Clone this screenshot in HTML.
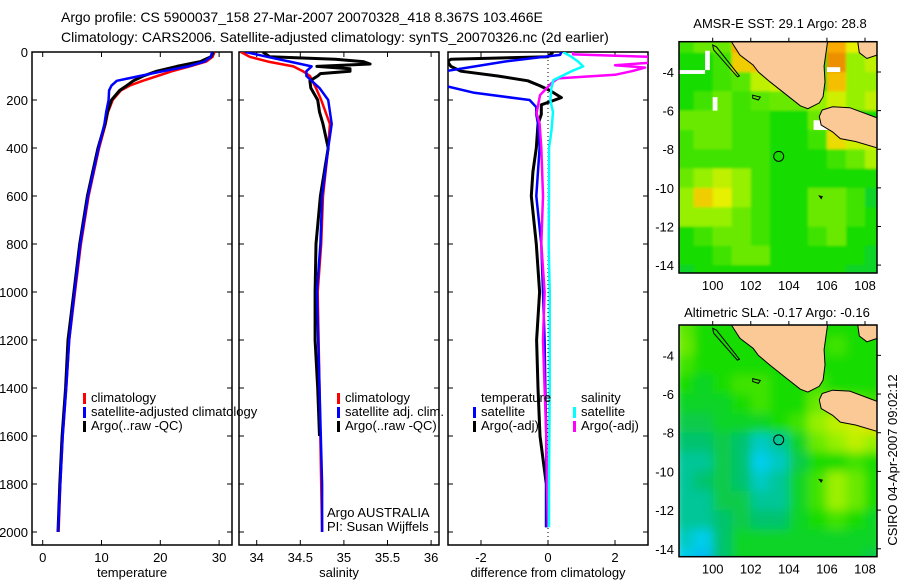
<!DOCTYPE html>
<html><head><meta charset="utf-8">
<style>
html,body{margin:0;padding:0;background:#fff;}
svg{display:block;font-family:"Liberation Sans",sans-serif;}
text{font-size:13px;fill:#000;}
</style></head>
<body>
<svg id="fig" width="900" height="580" viewBox="0 0 900 580" xmlns="http://www.w3.org/2000/svg">
<text x="61" y="22" style="font-size:14px">Argo profile: CS 5900037_158 27-Mar-2007 20070328_418 8.367S 103.466E</text>
<text x="61" y="42" style="font-size:14px">Climatology: CARS2006. Satellite-adjusted climatology: synTS_20070326.nc (2d earlier)</text>
<text x="780" y="28" text-anchor="middle">AMSR-E SST: 29.1 Argo: 28.8</text>
<text x="777" y="317" text-anchor="middle">Altimetric SLA: -0.17 Argo: -0.16</text>
<text transform="translate(897,460) rotate(-90)" text-anchor="middle">CSIRO 04-Apr-2007 09:02:12</text>
<g id="g"></g>
</svg>
<script>
// ---------- profile data ----------
const tArgoDepth=[0,20,40,60,80,100,120,140,160,200,250,300,400,600,800,1000,1200,1400,1600,1800,2000];
const tArgo=[29.0,28.6,26.8,22.8,19.4,17.1,15.4,14.3,13.1,11.7,11.0,10.6,9.4,7.6,6.3,5.3,4.3,3.9,3.3,2.9,2.6];
const tClim=[29.2,28.9,27.8,25.0,22.0,19.5,17.0,14.8,13.3,11.9,11.1,10.7,9.6,7.8,6.5,5.5,4.5,4.0,3.4,3.0,2.7];
const tSat=[28.8,28.6,27.5,24.7,20.5,16.5,12.6,11.7,11.3,11.2,10.8,10.5,9.5,7.7,6.4,5.4,4.5,4.0,3.4,3.0,2.6];

const sDepth=[0,20,30,40,50,60,70,80,90,100,120,150,200,250,300,400,600,800,1000,1200,1400,1600];
const sArgo=[34.07,34.15,34.9,35.22,35.3,34.69,35.07,35.07,34.73,34.70,34.61,34.62,34.70,34.72,34.76,34.82,34.73,34.68,34.67,34.67,34.70,34.72];
const scDepth=[0,20,40,60,80,100,150,200,300,400,600,800,1000,1400,1800,2000];
const sClim=[33.82,33.92,34.13,34.42,34.53,34.61,34.68,34.74,34.84,34.82,34.76,34.74,34.70,34.72,34.74,34.75];
const sSat=[33.87,34.12,34.38,34.63,34.57,34.57,34.72,34.82,34.86,34.82,34.75,34.73,34.69,34.72,34.75,34.75];

const dTArgoDepth=[0,20,30,40,60,80,100,120,140,160,190,220,260,300,400,500,600,800,1000,1200,1400,1600,1800,1980];
const dTArgo=[0.15,0,-2.9,-3,-2.9,-2.6,-1.5,-0.6,-0.25,0.05,0.4,-0.2,-0.2,-0.3,-0.35,-0.45,-0.5,-0.35,-0.25,-0.34,-0.3,-0.24,-0.05,-0.05];
const dTSatDepth=[0,12,40,83,100,140,170,200,230,260,300,400,600,800,1000,1200,1400,1600,1800,1980];
const dTSat=[0.4,0.36,-1.3,-3.2,-3.5,-3.1,-2.2,-0.55,-0.35,-0.35,-0.3,-0.25,-0.35,-0.2,-0.15,-0.1,-0.08,-0.05,-0.05,-0.05];
const dSArgoDepth=[0,10,20,45,55,65,80,95,110,130,180,255,300,400,600,800,1000,1200,1400,1600,1800,1980];
const dSArgo=[0.75,0.75,3,3,2,2.9,2.5,2,0.3,0.1,-0.24,-0.34,-0.25,-0.2,-0.15,-0.2,-0.1,-0.15,-0.1,-0.05,-0.03,0];
const dSSatDepth=[0,20,40,60,80,117,150,200,250,330,400,600,800,1000,1400,1800,1980];
const dSSat=[0.45,0.7,0.9,1.05,0.7,0.16,0.1,0.07,0.15,0.1,0.03,0.03,0.02,0.05,0.05,0.03,0.03];

// ---------- map data (1-degree cells, centres lon 98.5..108.5, lat -2.5..-14.5, normalised colour value) ----------
const mapLons=[98.5,99.5,100.5,101.5,102.5,103.5,104.5,105.5,106.5,107.5,108.5];
const mapLats=[-2.5,-3.5,-4.5,-5.5,-6.5,-7.5,-8.5,-9.5,-10.5,-11.5,-12.5,-13.5,-14.5];
const sstVals=[
[.55,.6,.6,.85,.5,.5,.5,.5,.85,.75,.8],
[.5,.5,.55,.8,.82,.5,.5,.5,.88,.65,.7],
[.5,.5,.55,.58,.7,.72,.5,.5,.82,.65,.65],
[.5,.55,.6,.55,.58,.6,.6,.65,.72,.65,.7],
[.6,.6,.6,.55,.55,.5,.5,.6,.6,.5,.5],
[.55,.6,.6,.55,.55,.5,.5,.55,.78,.72,.72],
[.55,.55,.55,.55,.55,.5,.5,.5,.55,.6,.68],
[.6,.65,.7,.65,.55,.5,.5,.5,.5,.5,.5],
[.65,.8,.75,.65,.55,.5,.5,.6,.6,.55,.45],
[.65,.65,.65,.6,.55,.5,.5,.6,.6,.55,.5],
[.5,.55,.6,.6,.55,.5,.5,.55,.6,.5,.5],
[.5,.5,.55,.6,.6,.5,.5,.5,.5,.5,.45],
[.45,.5,.5,.5,.5,.5,.5,.5,.5,.45,.45]];
const slaVals=[
[.58,.5,.5,.5,.5,.5,.5,.5,.5,.5,.5],
[.6,.5,.5,.5,.5,.5,.5,.5,.55,.5,.5],
[.55,.5,.5,.5,.5,.5,.5,.5,.5,.5,.5],
[.5,.45,.5,.55,.55,.5,.5,.55,.5,.5,.5],
[.45,.45,.45,.5,.55,.5,.5,.6,.62,.58,.55],
[.4,.4,.45,.45,.45,.5,.55,.65,.7,.72,.78],
[.35,.35,.4,.35,.25,.3,.45,.6,.65,.7,.65],
[.3,.3,.4,.35,.2,.25,.4,.5,.5,.55,.5],
[.3,.35,.4,.35,.25,.3,.45,.55,.66,.6,.5],
[.3,.3,.4,.4,.3,.3,.45,.55,.66,.6,.5],
[.3,.3,.35,.4,.35,.35,.45,.5,.55,.5,.45],
[.25,.2,.35,.45,.45,.45,.45,.45,.45,.45,.45],
[.2,.15,.35,.45,.45,.45,.45,.45,.45,.45,.4]];

const NS='http://www.w3.org/2000/svg';
const G=document.getElementById('g');
function mk(tag,attrs,parent){const e=document.createElementNS(NS,tag);for(const k in attrs)e.setAttribute(k,attrs[k]);(parent||G).appendChild(e);return e;}
function txt(x,y,s,anchor,parent){const t=mk('text',{x:x,y:y,'text-anchor':anchor||'start'},parent);t.textContent=s;return t;}

const Y0=52, YPX=0.24, BOT=545;
const yD=d=>Y0+d*YPX;

function profilePanel(name,x0,x1,xs,ticks,tickFmt,xlabel,showY){
  const g=mk('g',{});
  
  
  const r=mk('rect',{x:x0,y:Y0,width:x1-x0,height:BOT-Y0,fill:'none',stroke:'#000','stroke-width':1.5},g);
  
  
  ticks.forEach(v=>{
    const x=xs(v);
    mk('line',{x1:x,x2:x,y1:BOT,y2:BOT-5,stroke:'#000'},g);
    mk('line',{x1:x,x2:x,y1:Y0,y2:Y0+5,stroke:'#000'},g);
    const t=txt(x,562,tickFmt(v),'middle',g);
    
    
  });
  for(let d=0;d<=2000;d+=200){
    const y=yD(d);
    mk('line',{x1:x0,x2:x0+5,y1:y,y2:y,stroke:'#000'},g);
    mk('line',{x1:x1,x2:x1-5,y1:y,y2:y,stroke:'#000'},g);
    if(showY){const t=txt(28,y+5,String(d),'end',g);
      
      }
  }
  const xl=txt((x0+x1)/2,577,xlabel,'middle',g);
  
  
  return g;
}
function series(g,name,depths,vals,xs,color,w,clipId){
  const pts=depths.map((d,i)=>xs(vals[i]).toFixed(1)+','+yD(d).toFixed(1)).join(' ');
  const p=mk('polyline',{points:pts,fill:'none',stroke:color,'stroke-width':w,'stroke-linejoin':'round','clip-path':'url(#'+clipId+')'},g);
  
  
}
const defs=mk('defs',{});
function clip(id,x,y,w,h){const c=mk('clipPath',{id:id},defs);mk('rect',{x:x,y:y,width:w,height:h},c);}
function legendItem(g,name,mx,y,color,label){
  const m=mk('rect',{x:mx,y:y-9,width:3,height:11,fill:color},g);
  
  
  const t=txt(mx+8,y,label,'start',g);
  
  
}

const xT=v=>42.7+v*5.88;
clip('c1',32,Y0,200,BOT-Y0);
const p1=profilePanel('temperature',32,232,xT,[0,10,20,30],v=>String(v),'temperature',true);
series(p1,'temperature-climatology-line',tArgoDepth,tClim,xT,'#f00',2.5,'c1');
series(p1,'temperature-argo-line',tArgoDepth,tArgo,xT,'#000',3,'c1');
series(p1,'temperature-satellite-adjusted-line',tArgoDepth,tSat,xT,'#00f',2.5,'c1');
legendItem(p1,'legend-climatology',83,402,'#f00','climatology');
legendItem(p1,'legend-satellite-adjusted',83,416,'#00f','satellite-adjusted climatology');
legendItem(p1,'legend-argo',83,430,'#000','Argo(..raw -QC)');

const xS=v=>256.7+(v-34)*87.2;
clip('c2',239,Y0,200,BOT-Y0);
const p2=profilePanel('salinity',239,439,xS,[34,34.5,35,35.5,36],v=>String(v),'salinity',false);
series(p2,'salinity-climatology-line',scDepth,sClim,xS,'#f00',2.5,'c2');
series(p2,'salinity-argo-line',sDepth,sArgo,xS,'#000',3,'c2');
series(p2,'salinity-satellite-adjusted-line',scDepth,sSat,xS,'#00f',2.5,'c2');
legendItem(p2,'legend-sal-climatology',337,402,'#f00','climatology');
legendItem(p2,'legend-sal-satellite',337,416,'#00f','satellite adj. clim.');
legendItem(p2,'legend-sal-argo',337,430,'#000','Argo(..raw -QC)');
const a1=txt(327,517,'Argo AUSTRALIA','start',p2);


const a2=txt(327,531,'PI: Susan Wijffels','start',p2);



const xDf=v=>548+v*33.5;
clip('c3',448,Y0,200,BOT-Y0);
const p3=profilePanel('difference',448,648,xDf,[-2,0,2],v=>String(v),'difference from climatology',false);
const zl=mk('line',{x1:xDf(0),x2:xDf(0),y1:Y0,y2:BOT,stroke:'#000','stroke-dasharray':'1,3'},p3);


series(p3,'temp-argo-adj-diff-line',dTArgoDepth,dTArgo,xDf,'#000',3,'c3');
series(p3,'temp-satellite-diff-line',dTSatDepth,dTSat,xDf,'#00f',2.5,'c3');
series(p3,'sal-argo-adj-diff-line',dSArgoDepth,dSArgo,xDf,'#f0f',2.5,'c3');
series(p3,'sal-satellite-diff-line',dSSatDepth,dSSat,xDf,'#0ff',2.5,'c3');
const lt=txt(481,402,'temperature','start',p3);


const ls=txt(581,402,'salinity','start',p3);


legendItem(p3,'legend-temp-satellite',473,416,'#00f','satellite');
legendItem(p3,'legend-temp-argo',473,430,'#000','Argo(-adj)');
legendItem(p3,'legend-sal-satellite-diff',573,416,'#0ff','satellite');
legendItem(p3,'legend-sal-argo-diff',573,430,'#f0f','Argo(-adj)');

// ---------- maps ----------
const cstops=[[0,[0,140,255]],[0.2,[0,205,235]],[0.35,[0,195,110]],[0.5,[20,220,0]],[0.65,[150,240,0]],[0.75,[230,240,0]],[0.85,[250,170,0]],[1,[180,40,0]]];
function cmap(v){for(let i=1;i<cstops.length;i++){if(v<=cstops[i][0]){const a=cstops[i-1],b=cstops[i],t=(v-a[0])/(b[0]-a[0]);
  const c=a[1].map((x,k)=>Math.round(x+(b[1][k]-x)*t));return 'rgb('+c.join(',')+')';}}return 'rgb(180,40,0)';}
const sumatra=[[100.9,-2.3],[101.43,-3.12],[102.13,-3.64],[102.4,-4.0],[103.0,-4.5],[103.9,-5.2],[104.6,-5.75],[105.0,-5.9],[105.6,-5.6],[105.8,-5.28],[105.9,-4.5],[105.85,-3.7],[106.05,-2.3]];
const bangka=[[107.6,-2.3],[108.7,-2.3],[108.7,-3.1],[108.1,-3.3],[107.7,-3.0]];
const java=[[105.75,-5.97],[106.3,-5.8],[107.2,-5.85],[108.7,-6.4],[108.7,-7.95],[107.5,-7.6],[106.7,-7.45],[106.3,-7.1],[105.7,-6.75],[105.6,-6.3]];
const enggano=[[102.1,-5.2],[102.5,-5.3],[102.4,-5.45],[102.1,-5.35]];
const mentawai=[[100.0,-2.6],[100.2,-2.7],[101.4,-4.2],[101.3,-4.25],[100.05,-2.85]];
const christmas=[[105.6,-10.42],[105.75,-10.45],[105.7,-10.55]];
function mapPanel(name,top,bottom,latTop,latBot,vals,holes,blur){
  const x0=679,x1=877,lonL=98.23,lonR=108.63;
  const X=l=>x0+(l-lonL)/(lonR-lonL)*(x1-x0);
  const Y=la=>top+(latTop-la)/(latTop-latBot)*(bottom-top);
  const g=mk('g',{});
  
  
  const cid=name+'-clip';clip(cid,x0,top,x1-x0,bottom-top);
  const fid=name+'-blur';
  const f=mk('filter',{id:fid,x:'-10%',y:'-10%',width:'120%',height:'120%'},defs);
  mk('feGaussianBlur',{stdDeviation:blur},f);
  const cells=mk('g',{'clip-path':'url(#'+cid+')'},g);
  const inner=mk('g',{filter:'url(#'+fid+')'},cells);
  mapLats.forEach((la,i)=>mapLons.forEach((lo,j)=>{
    const x=X(lo-0.5),y=Y(la+0.5);
    const c=mk('rect',{x:x.toFixed(1),y:y.toFixed(1),width:(X(lo+0.5)-x+0.6).toFixed(1),height:(Y(la-0.5)-y+0.6).toFixed(1),fill:cmap(vals[i][j])},inner);
    
    
  }));
  holes.forEach(h=>{mk('rect',{x:X(h[0]),y:Y(h[1]),width:X(h[2])-X(h[0]),height:Y(h[3])-Y(h[1]),fill:'#fff'},cells);});
  const poly=(pts,nm,fill)=>{const p=mk('polygon',{points:pts.map(p=>X(p[0]).toFixed(1)+','+Y(p[1]).toFixed(1)).join(' '),fill:fill,stroke:'#000','stroke-width':1},cells);
    };
  poly(sumatra,'sumatra-land','#fbc996');
  poly(bangka,'bangka-land','#fbc996');
  poly(java,'java-land','#fbc996');
  poly(enggano,'enggano-island','none');
  poly(mentawai,'mentawai-island','none');
  poly(christmas,'christmas-island','none');
  const cx=X(103.466),cy=Y(-8.367);
  const circ=mk('circle',{cx:cx,cy:cy,r:5,fill:'none',stroke:'#000','stroke-width':1},g);
  
  
  const fr=mk('rect',{x:x0,y:top,width:x1-x0,height:bottom-top,fill:'none',stroke:'#000','stroke-width':1.5},g);
  
  
  [100,102,104,106,108].forEach(l=>{const x=X(l);
    mk('line',{x1:x,x2:x,y1:top,y2:top-4,stroke:'#000'},g);
    const t=txt(x,bottom+17,String(l),'middle',g);
    
    });
  [-4,-6,-8,-10,-12,-14].forEach(la=>{const y=Y(la);
    mk('line',{x1:x1,x2:x1+4,y1:y,y2:y,stroke:'#000'},g);
    const t=txt(x0-5,y+5,String(la),'end',g);
    
    });
}
mapPanel('sst-map',41.7,273,-2.43,-14.41,sstVals,[[98.23,-3.9,99.6,-4.1],[99.6,-2.9,99.85,-3.9],[100.0,-5.3,100.25,-6.0],[106.0,-3.75,106.7,-4.0],[105.3,-6.5,106.4,-7.0]],1.3);
mapPanel('sla-map',325,556.7,-2.43,-14.41,slaVals,[],5);
</script>
</body></html>
